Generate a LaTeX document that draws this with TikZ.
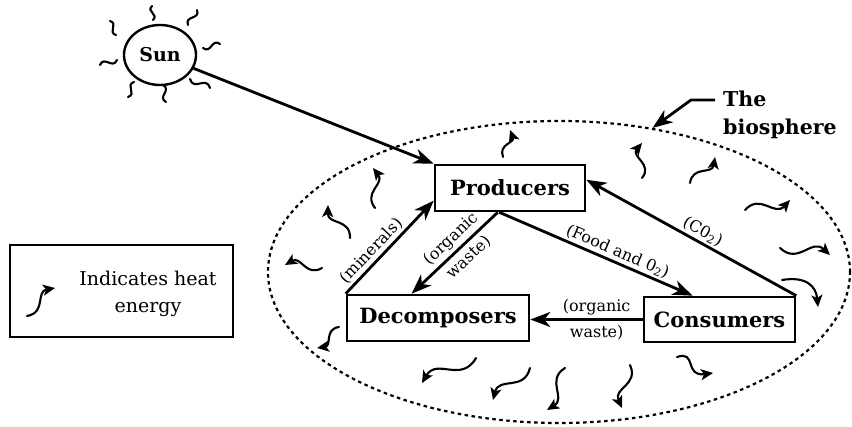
\documentclass[tikz,border=0pt]{standalone}
\usepackage{fontspec}
\setmainfont{DejaVu Serif}
\usetikzlibrary{arrows.meta,calc,shapes.geometric}

% font sizes for the stage boxes and the connector labels
\newcommand{\boxfont}{\fontsize{21}{25}\selectfont\bfseries}
\newcommand{\lblfont}{\fontsize{16}{26}\selectfont}

% wavy heat arrow from #2 to #3; #1 sets how far the S-curve swings
\newcommand{\heatwave}[3][35]{%
  \draw[heatarrow] (#2) .. controls ($(#2)!0.5!#1:(#3)$) and ($(#3)!0.5!#1:(#2)$) .. (#3);}
% short wavy ray around the sun
\newcommand{\sunray}[3][50]{%
  \draw[ray] (#2) .. controls ($(#2)!0.6!#1:(#3)$) and ($(#3)!0.6!#1:(#2)$) .. (#3);}

\begin{document}
\begin{tikzpicture}[x=1pt,y=-1pt,
  stage/.style={draw, rectangle, line width=2.6pt, inner sep=0pt, font=\boxfont},
  sunstyle/.style={draw, ellipse, line width=2.4pt, inner sep=0pt,
    minimum width=72pt, minimum height=60pt, font=\fontsize{19}{22}\selectfont\bfseries},
  flow/.style={line width=2.8pt, -{Stealth[length=20pt,width=15pt,inset=6pt]}},
  heatarrow/.style={line width=2.1pt, line cap=round, -{Stealth[length=12pt,width=11pt,inset=3pt]}},
  ray/.style={line width=2.1pt, line cap=round},
  lbl/.style={font=\lblfont, inner sep=2pt},
  sphere/.style={draw, ellipse, line width=2.2pt, dash pattern=on 3.5pt off 3.5pt,
    inner sep=0pt, minimum width=582pt, minimum height=302pt}]

\useasboundingbox (0,0) rectangle (852,427);

% the biosphere
\node[sphere] (sphere) at (559,272) {};

% the sun and its rays
\node[sunstyle] (sun) at (160,55) {Sun};
\sunray{110,21}{116,35}
\sunray[-50]{152,6}{153,20}
\sunray{197,10}{188,25}
\sunray[-50]{203,48}{220,44}
\sunray{100,65}{117,60}
\sunray[-50]{134,82}{128,97}
\sunray{163,85}{166,102}
\sunray[-50]{190,79}{210,88}

% stages of the cycle
\node[stage, minimum width=150pt, minimum height=46pt] (prod) at (510,188) {Producers};
\node[stage, minimum width=182pt, minimum height=46pt] (dec) at (438,318) {Decomposers};
\node[stage, minimum width=151pt, minimum height=45pt] (cons) at (719.5,319.5) {Consumers};

% energy and matter flows
\draw[flow] (sun) -- (prod.north west);
\draw[flow] ($(prod.south west)!0.42!(prod.south east)$)
  -- node[lbl, sloped, pos=0.44, align=center] {(organic\\waste)}
  ($(dec.north west)!0.357!(dec.north east)$);
\draw[flow] (dec.north west)
  -- node[lbl, sloped, above, pos=0.38] {(minerals)}
  ($(prod.north west)!0.76!(prod.south west)$);
\draw[flow] ($(prod.south west)!0.43!(prod.south east)$)
  -- node[lbl, sloped, above, pos=0.59] {(Food and 0\textsubscript{2})}
  ($(cons.north west)!0.325!(cons.north east)$);
\draw[flow] (cons.north east)
  -- node[lbl, sloped, above, pos=0.47] {(C0\textsubscript{2})}
  ($(prod.north east)!0.33!(prod.south east)$);
\draw[flow] (cons.west)
  -- node[lbl, pos=0.41, align=center] {(organic\\waste)}
  (cons.west -| dec.east);

% label pointing at the biosphere
\node[anchor=north west, inner sep=0pt, align=left,
  font=\fontsize{20.5}{28}\selectfont\bfseries] (biolabel) at (723,91) {The\\biosphere};
\coordinate (biotail) at ($(biolabel.north west)+(-8,9)$);
\draw[flow] (biotail) -- ++(-24,0) -- (sphere.57);

% heat leaving the biosphere
\heatwave{375,208}{373,168}
\heatwave[-35]{350,238}{328,205}
\heatwave{322,268}{285,265}
\heatwave[-35]{339,327}{317,348}
\heatwave{476,358}{422,383}
\heatwave{530,368}{493,400}
\heatwave[-35]{565,368}{547,410}
\heatwave{630,365}{622,408}
\draw[heatarrow] (677,357) .. controls (697,350) and (684,377) .. (713,373);
\draw[heatarrow] (782,280) .. controls (806,276) and (816,286) .. (818,307);
\heatwave[-35]{780,248}{830,255}
\heatwave{745,210}{790,200}
\heatwave{690,183}{715,157}
\heatwave[-40]{642,178}{642,143}
\heatwave{503,157}{510,130}

% legend
\node[draw, line width=2.2pt, inner sep=0pt, minimum width=223pt, minimum height=92pt] (legend) at (121.5,291) {};
\node[anchor=north, inner sep=0pt, align=center, font=\fontsize{19}{27}\selectfont]
  (legendtext) at (148,271) {Indicates heat\\energy};
\heatwave[-35]{27,316}{55,288}

\end{tikzpicture}
\end{document}
